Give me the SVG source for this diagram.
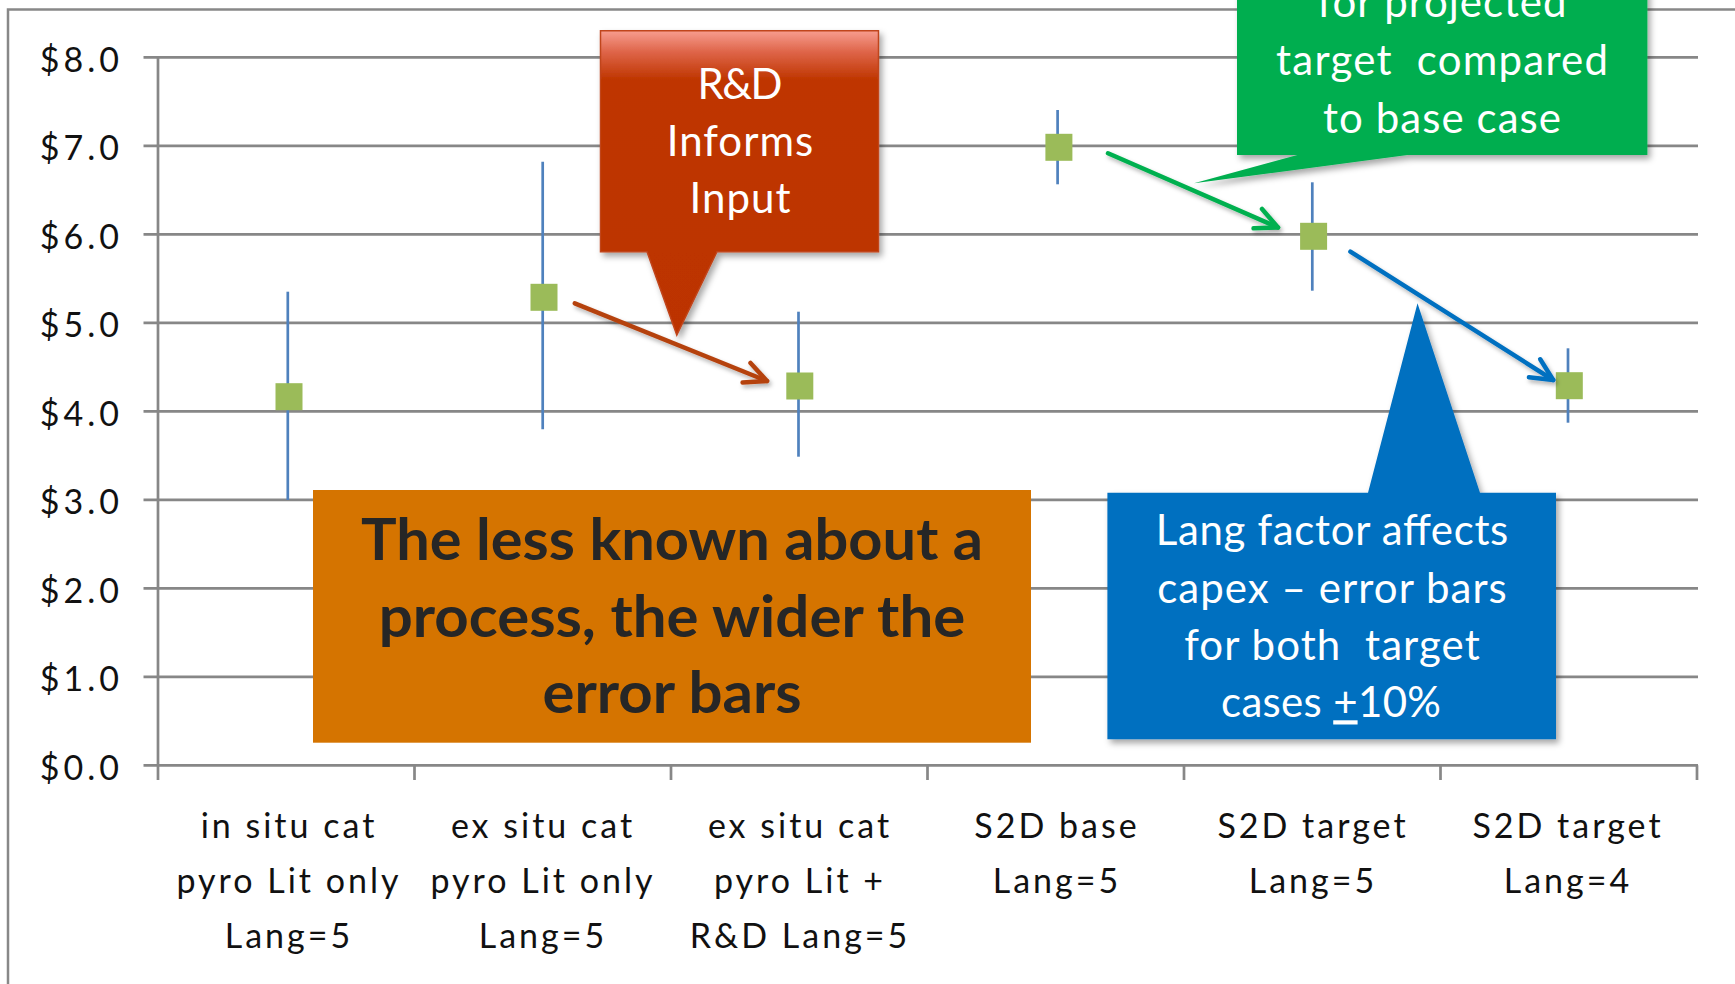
<svg xmlns="http://www.w3.org/2000/svg" width="1735" height="984" viewBox="0 0 1735 984">
  <defs>
    <style>
      .frame { fill: none; stroke: #888888; stroke-width: 2.5; }
      .grid { stroke: #878787; stroke-width: 2.7; fill: none; }
      .ylab { font-family: Lato, "Open Sans", sans-serif; font-size: 34px; fill: #111; text-anchor: end; letter-spacing: 4px; }
      .xlab { font-family: Lato, "Open Sans", sans-serif; font-size: 34px; fill: #111; text-anchor: middle; letter-spacing: 3px; }
      .bar { stroke: #4F81BD; stroke-width: 2.7; }
      .pt { fill: #9BBB59; }
      .call { font-family: Lato, "Open Sans", sans-serif; font-size: 42px; fill: #ffffff; text-anchor: middle; }
      .big { font-family: Lato, "Open Sans", sans-serif; font-size: 58px; font-weight: bold; fill: #262626; text-anchor: middle; }
      .arrow { fill: none; stroke-width: 4.5; stroke-linecap: round; stroke-linejoin: round; }
    </style>
    <linearGradient id="redFill" gradientUnits="userSpaceOnUse" x1="0" y1="31" x2="0" y2="335">
      <stop offset="0" stop-color="#F79C8E"/>
      <stop offset="0.07" stop-color="#DE6448"/>
      <stop offset="0.16" stop-color="#BF3600"/>
      <stop offset="1" stop-color="#BC3300"/>
    </linearGradient>
    <filter id="shadow" x="-10%" y="-10%" width="130%" height="130%">
      <feDropShadow dx="3" dy="4" stdDeviation="3" flood-color="#000" flood-opacity="0.35"/>
    </filter>
    <filter id="lineShadow" x="-10%" y="-20%" width="130%" height="150%">
      <feDropShadow dx="2" dy="3" stdDeviation="2" flood-color="#000" flood-opacity="0.3"/>
    </filter>
    <marker id="headRed" markerUnits="strokeWidth" orient="auto" refX="0" refY="0" overflow="visible">
      <path d="M -4.9 -2.35 L 0 0 L -4.9 2.35" fill="none" stroke="#B5420F" stroke-width="1" stroke-linecap="round" stroke-linejoin="round"/>
    </marker>
    <marker id="headGreen" markerUnits="strokeWidth" orient="auto" refX="0" refY="0" overflow="visible">
      <path d="M -4.9 -2.35 L 0 0 L -4.9 2.35" fill="none" stroke="#00B050" stroke-width="1" stroke-linecap="round" stroke-linejoin="round"/>
    </marker>
    <marker id="headBlue" markerUnits="strokeWidth" orient="auto" refX="0" refY="0" overflow="visible">
      <path d="M -4.9 -2.35 L 0 0 L -4.9 2.35" fill="none" stroke="#0070C0" stroke-width="1" stroke-linecap="round" stroke-linejoin="round"/>
    </marker>
  </defs>

  <rect width="1735" height="984" fill="#ffffff"/>
  <!-- chart area border -->
  <rect class="frame" x="8" y="9.5" width="1800" height="1100"/>

  <!-- value axis, gridlines and category ticks -->
  <g id="axes">
    <path class="grid" d="M143.5 57.3H1698 M143.5 145.8H1698 M143.5 234.3H1698 M143.5 322.8H1698 M143.5 411.3H1698 M143.5 499.8H1698 M143.5 588.3H1698 M143.5 676.8H1698 M143.5 765.3H1698"/>
    <path class="grid" d="M158 57.3V780 M414.5 765.3V780 M671 765.3V780 M927.5 765.3V780 M1184 765.3V780 M1440.5 765.3V780 M1697 765.3V780"/>
    <text class="ylab" x="123" y="71.8">$8.0</text>
    <text class="ylab" x="123" y="160.3">$7.0</text>
    <text class="ylab" x="123" y="248.8">$6.0</text>
    <text class="ylab" x="123" y="337.3">$5.0</text>
    <text class="ylab" x="123" y="425.8">$4.0</text>
    <text class="ylab" x="123" y="514.3">$3.0</text>
    <text class="ylab" x="123" y="602.8">$2.0</text>
    <text class="ylab" x="123" y="691.3">$1.0</text>
    <text class="ylab" x="123" y="779.8">$0.0</text>
  </g>

  <!-- category labels -->
  <g id="categories">
    <text class="xlab" x="289" y="838">in situ cat</text>
    <text class="xlab" x="289" y="893">pyro Lit only</text>
    <text class="xlab" x="289" y="948">Lang=5</text>
    <text class="xlab" x="543" y="838">ex situ cat</text>
    <text class="xlab" x="543" y="893">pyro Lit only</text>
    <text class="xlab" x="543" y="948">Lang=5</text>
    <text class="xlab" x="800" y="838">ex situ cat</text>
    <text class="xlab" x="800" y="893">pyro Lit +</text>
    <text class="xlab" x="800" y="948">R&amp;D Lang=5</text>
    <text class="xlab" x="1057" y="838">S2D base</text>
    <text class="xlab" x="1057" y="893">Lang=5</text>
    <text class="xlab" x="1313" y="838">S2D target</text>
    <text class="xlab" x="1313" y="893">Lang=5</text>
    <text class="xlab" x="1568" y="838">S2D target</text>
    <text class="xlab" x="1568" y="893">Lang=4</text>
  </g>

  <!-- cost estimates with error bars -->
  <g id="series">
    <g id="p-insitu"><line class="bar" x1="287.8" y1="291.7" x2="287.8" y2="500"/><rect class="pt" x="275.5" y="383.2" width="27" height="27"/></g>
    <g id="p-exsitu"><line class="bar" x1="542.7" y1="161.7" x2="542.7" y2="429.3"/><rect class="pt" x="530.5" y="283.8" width="27" height="27"/></g>
    <g id="p-exsitu-rd"><line class="bar" x1="798.5" y1="311.7" x2="798.5" y2="456.7"/><rect class="pt" x="786.3" y="372.5" width="27" height="27"/></g>
    <g id="p-s2d-base"><line class="bar" x1="1057.6" y1="110" x2="1057.6" y2="184.3"/><rect class="pt" x="1045.4" y="133.8" width="27" height="27"/></g>
    <g id="p-s2d-t5"><line class="bar" x1="1312.3" y1="182.3" x2="1312.3" y2="290.7"/><rect class="pt" x="1300.1" y="222.8" width="27" height="27"/></g>
    <g id="p-s2d-t4"><line class="bar" x1="1568" y1="348.3" x2="1568" y2="422.7"/><rect class="pt" x="1555.8" y="372.2" width="27" height="27"/></g>
  </g>

  <!-- note box -->
  <g id="note-error-bars">
    <rect x="313" y="490" width="718" height="252.7" fill="#D57400"/>
    <text class="big" x="672" y="560" textLength="622" lengthAdjust="spacingAndGlyphs">The less known about a</text>
    <text class="big" x="672" y="636.7" textLength="586.5" lengthAdjust="spacingAndGlyphs">process, the wider the</text>
    <text class="big" x="672" y="713.3" textLength="259" lengthAdjust="spacingAndGlyphs">error bars</text>
  </g>

  <!-- callouts -->
  <g id="callout-rd">
    <path d="M600.5 30.7H878.5V251.7H717L676.8 335L647 251.7H600.5Z" fill="url(#redFill)" stroke="#C0441A" stroke-width="1.5" filter="url(#shadow)"/>
    <text class="call" x="740" y="99.3" textLength="85">R&amp;D</text>
    <text class="call" x="740" y="156" textLength="146.6">Informs</text>
    <text class="call" x="740" y="213.3" textLength="101">Input</text>
  </g>

  <g id="callout-target">
    <path d="M1237 -60H1647.4V155H1407.5L1194 183.3L1297.4 155H1237Z" fill="#00AE50" filter="url(#shadow)"/>
    <text class="call" x="1442" y="17" textLength="249">for projected</text>
    <text class="call" x="1442" y="75" textLength="332" xml:space="preserve">target  compared</text>
    <text class="call" x="1442" y="133.3" textLength="238">to base case</text>
  </g>

  <g id="callout-lang">
    <path d="M1107.4 492.7H1368L1417.5 303.3L1480 492.7H1556V739.3H1107.4Z" fill="#0070C0" filter="url(#shadow)"/>
    <text class="call" x="1332" y="545" textLength="352.6">Lang factor affects</text>
    <text class="call" x="1332" y="603.3" textLength="349.6">capex – error bars</text>
    <text class="call" x="1332" y="660" textLength="295.5" xml:space="preserve">for both  target</text>
    <text class="call" x="1331" y="717.3" textLength="220">cases <tspan text-decoration="underline">+</tspan>10%</text>
  </g>

  <!-- arrows between estimates -->
  <g id="connectors" filter="url(#lineShadow)">
    <line class="arrow" stroke="#B5420F" x1="574.8" y1="303.3" x2="767" y2="381" marker-end="url(#headRed)"/>
    <line class="arrow" stroke="#00B050" x1="1108" y1="153.3" x2="1278" y2="227.5" marker-end="url(#headGreen)"/>
    <line class="arrow" stroke="#0070C0" x1="1350.4" y1="251.7" x2="1553.2" y2="380" marker-end="url(#headBlue)"/>
  </g>
</svg>
